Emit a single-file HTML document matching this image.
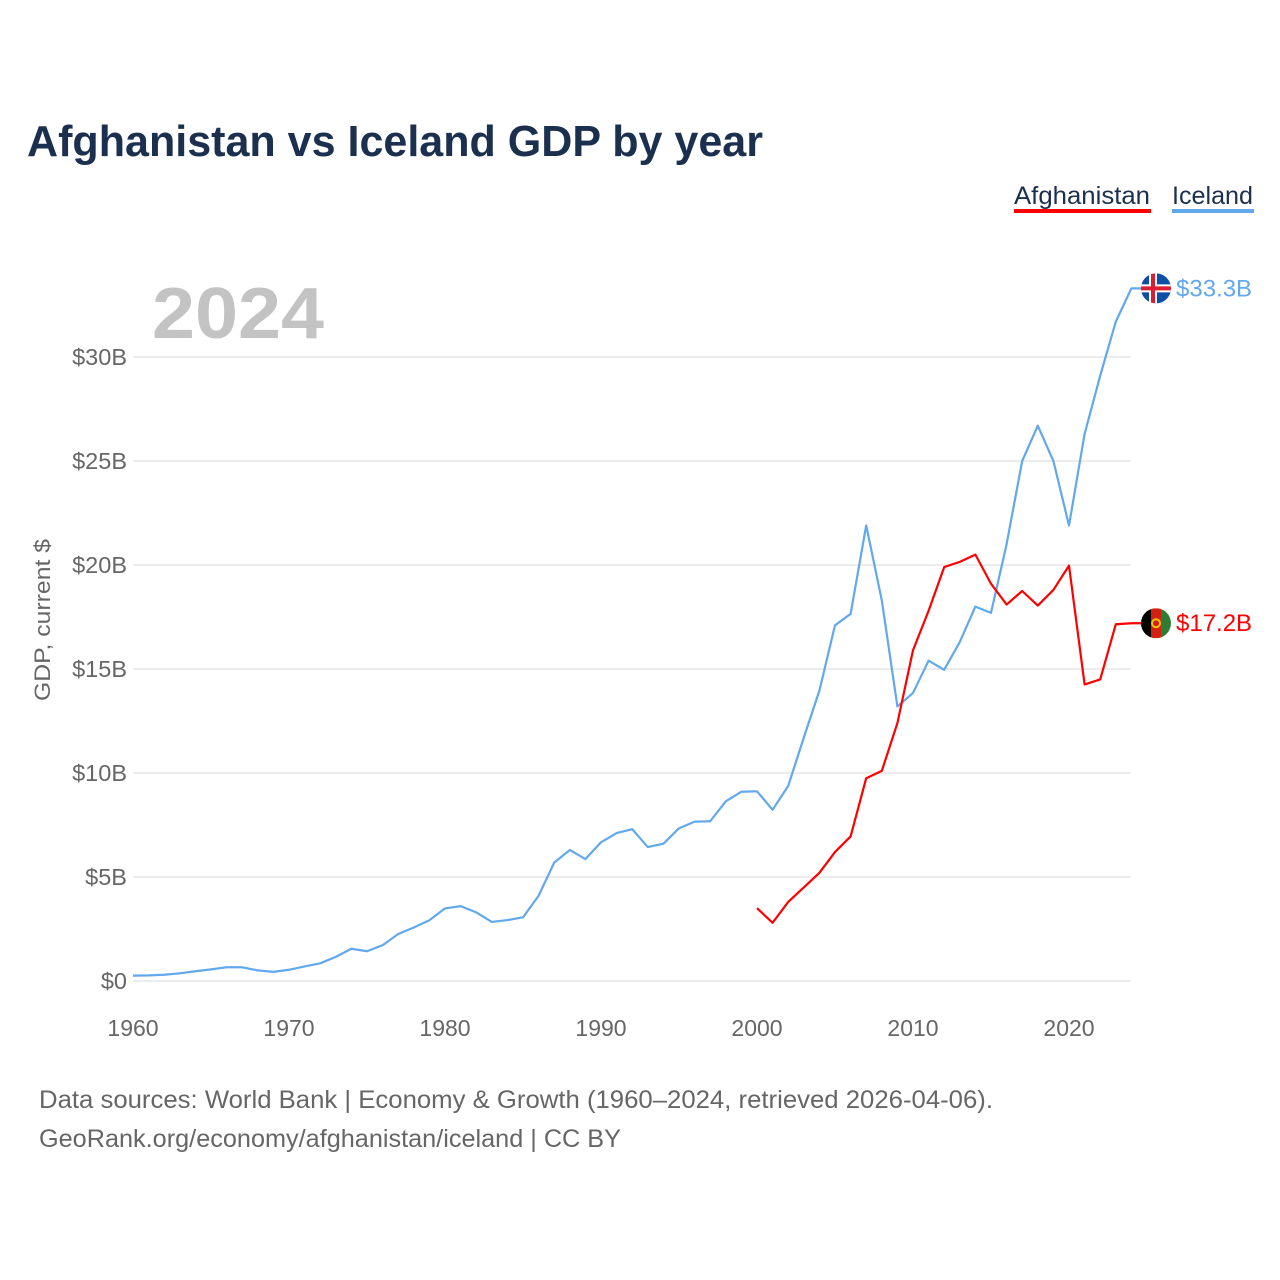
<!DOCTYPE html>
<html><head><meta charset="utf-8"><style>
body{margin:0;background:#fff;}
svg{display:block;font-family:"Liberation Sans",sans-serif;}
</style></head><body>
<svg id="chart" width="1280" height="1280" viewBox="0 0 1280 1280">
<text x="27" y="156" font-size="44" font-weight="bold" fill="#1b2f4f" textLength="736" lengthAdjust="spacingAndGlyphs">Afghanistan vs Iceland GDP by year</text>
<g>
<text x="1014" y="204" font-size="25" fill="#1b2f4f" textLength="136" lengthAdjust="spacingAndGlyphs">Afghanistan</text>
<rect x="1014" y="209" width="137" height="4" fill="#ff0000"/>
<text x="1172" y="204" font-size="25" fill="#1b2f4f" textLength="81" lengthAdjust="spacingAndGlyphs">Iceland</text>
<rect x="1172" y="209" width="82" height="4" fill="#62a8ec"/>
</g>
<text x="152" y="338" font-size="72" font-weight="bold" fill="#c3c3c3" textLength="172" lengthAdjust="spacingAndGlyphs">2024</text>
<text transform="translate(50,620) rotate(-90)" text-anchor="middle" font-size="22" fill="#666" textLength="162" lengthAdjust="spacingAndGlyphs">GDP, current $</text>
<g id="grid"></g><g id="yticks"></g><g id="xticks"></g><g id="series"></g>
<g>
<text x="39" y="1108" font-size="25" fill="#666" textLength="954" lengthAdjust="spacingAndGlyphs">Data sources: World Bank | Economy &amp; Growth (1960–2024, retrieved 2026-04-06).</text>
<text x="39" y="1147" font-size="25" fill="#666" textLength="582" lengthAdjust="spacingAndGlyphs">GeoRank.org/economy/afghanistan/iceland | CC BY</text>
</g>
</svg>
<script>
const yTicks=[0,5,10,15,20,25,30];
const xTicks=[1960,1970,1980,1990,2000,2010,2020];
const icelandYears=[1960,1961,1962,1963,1964,1965,1966,1967,1968,1969,1970,1971,1972,1973,1974,1975,1976,1977,1978,1979,1980,1981,1982,1983,1984,1985,1986,1987,1988,1989,1990,1991,1992,1993,1994,1995,1996,1997,1998,1999,2000,2001,2002,2003,2004,2005,2006,2007,2008,2009,2010,2011,2012,2013,2014,2015,2016,2017,2018,2019,2020,2021,2022,2023,2024];
const icelandGdp=[0.26,0.27,0.3,0.37,0.47,0.56,0.66,0.66,0.51,0.44,0.54,0.7,0.85,1.16,1.55,1.43,1.72,2.26,2.57,2.92,3.49,3.6,3.3,2.84,2.93,3.06,4.1,5.69,6.3,5.86,6.67,7.11,7.3,6.44,6.6,7.34,7.66,7.68,8.64,9.1,9.12,8.23,9.38,11.7,13.96,17.1,17.65,21.9,18.3,13.2,13.85,15.4,14.96,16.3,18.0,17.7,21.0,25.0,26.7,25.0,21.9,26.3,29.1,31.7,33.3];
const afgYears=[2000,2001,2002,2003,2004,2005,2006,2007,2008,2009,2010,2011,2012,2013,2014,2015,2016,2017,2018,2019,2020,2021,2022,2023,2024];
const afgGdp=[3.5,2.8,3.8,4.5,5.2,6.2,6.95,9.75,10.1,12.4,15.9,17.8,19.9,20.15,20.5,19.1,18.1,18.75,18.05,18.8,19.97,14.26,14.5,17.15,17.2];
const X=y=>133+(y-1960)*15.6;
const Y=v=>981-v*20.8;
const NS="http://www.w3.org/2000/svg";
function mk(tag,attrs,parent){const e=document.createElementNS(NS,tag);for(const k in attrs)e.setAttribute(k,attrs[k]);parent.appendChild(e);return e;}
const grid=document.getElementById('grid'),yt=document.getElementById('yticks'),xt=document.getElementById('xticks'),ser=document.getElementById('series');
yTicks.forEach(v=>{
 const l=mk('line',{x1:133,x2:1131,y1:Y(v),y2:Y(v),stroke:'#e6e6e6','stroke-width':1.5},grid);
 
 
 const t=mk('text',{x:127,y:Y(v)+8,'text-anchor':'end','font-size':23.5,fill:'#666'},yt);
 t.textContent='$'+v+(v?'B':'');
 
 
});
xTicks.forEach(y=>{
 const t=mk('text',{x:X(y),y:1036,'text-anchor':'middle','font-size':23,fill:'#666'},xt);
 t.textContent=y;
 
 
});
function line(years,vals,color,name,labelText,flag){
 const pts=years.map((y,i)=>X(y)+','+Y(vals[i]));
 const last=Y(vals[vals.length-1]);
 pts.push((X(2024)+12)+','+last);
 const p=mk('polyline',{points:pts.join(' '),fill:'none',stroke:color,'stroke-width':2.2,'stroke-linejoin':'round'},ser);
 
 
 const g=mk('g',{},ser);
 
 
 const cx=1156,cy=last,r=15;
 const cp=mk('clipPath',{id:'c'+name},g);mk('circle',{cx:cx,cy:cy,r:r},cp);
 const gg=mk('g',{'clip-path':'url(#c'+name+')'},g);
 if(flag==='is'){
  mk('rect',{x:cx-r,y:cy-r,width:2*r,height:2*r,fill:'#0b4fa8'},gg);
  mk('rect',{x:cx-r,y:cy-4,width:2*r,height:8,fill:'#fff'},gg);
  mk('rect',{x:cx-7,y:cy-r,width:8,height:2*r,fill:'#fff'},gg);
  mk('rect',{x:cx-r,y:cy-2,width:2*r,height:4,fill:'#dc1e35'},gg);
  mk('rect',{x:cx-5,y:cy-r,width:4,height:2*r,fill:'#dc1e35'},gg);
 }else{
  mk('rect',{x:cx-r,y:cy-r,width:10,height:2*r,fill:'#000'},gg);
  mk('rect',{x:cx-5,y:cy-r,width:10,height:2*r,fill:'#d32011'},gg);
  mk('rect',{x:cx+5,y:cy-r,width:10,height:2*r,fill:'#2e7d32'},gg);
  mk('circle',{cx:cx,cy:cy,r:4,fill:'none',stroke:'#f5c400','stroke-width':2},gg);
 }
 const t=mk('text',{x:1176,y:last+8,'font-size':24,fill:color},ser);
 t.textContent=labelText;
 
 
}
line(icelandYears,icelandGdp,'#62a8ec','iceland','$33.3B','is');
line(afgYears,afgGdp,'#ff0000','afghanistan','$17.2B','af');
</script>
</body></html>
